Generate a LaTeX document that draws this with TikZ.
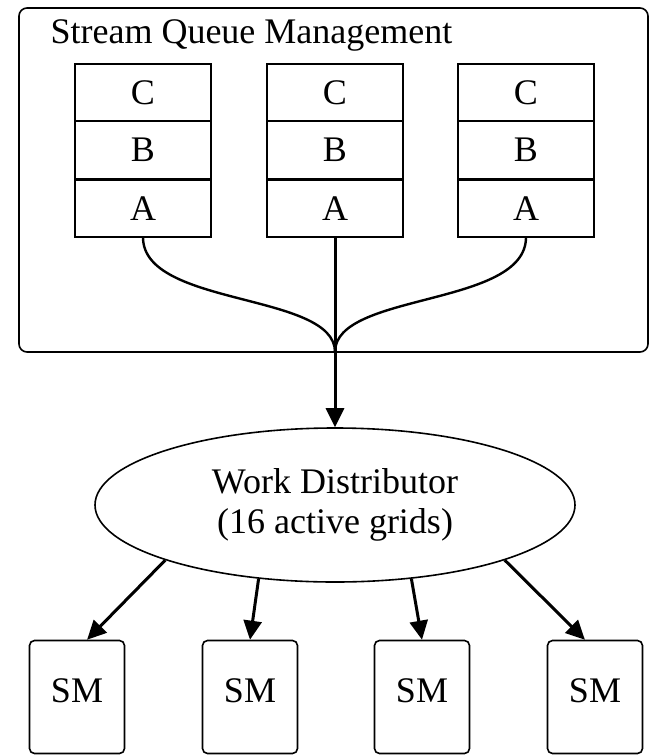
\documentclass[tikz,border=0pt]{standalone}
\usepackage{fontspec}
\setmainfont{Liberation Serif}
\usetikzlibrary{positioning,arrows.meta,shapes.geometric}

\begin{document}
\begin{tikzpicture}[
    x=1pt, y=-1pt,
    every node/.style={font=\fontsize{36}{40}\selectfont},
    cell/.style={rectangle, draw, line width=1.6pt, outer sep=0pt, minimum width=136pt, minimum height=57.5pt, inner sep=0pt},
    smbox/.style={rectangle, draw, line width=1.6pt, rounded corners=5pt, minimum width=95pt, minimum height=113pt, inner sep=0pt, text depth=12pt},
    flow/.style={-{Triangle[length=19pt,width=18pt]}, line width=3pt},
    feed/.style={line width=2.4pt}
]
\useasboundingbox (0,0) rectangle (651,755);

% Stream queue management
\node[draw, line width=1.6pt, rounded corners=8pt, minimum width=629pt, minimum height=344pt] (sqm) at (333.5,180) {};
\node[anchor=base west] (title) at (47,43) {Stream Queue Management};

% Queues
\foreach \i/\x in {1/143,2/335,3/526} {
    \node[cell] (c\i) at (\x,92.5) {C};
    \node[cell, below=0pt of c\i] (b\i) {B};
    \node[cell, below=1pt of b\i] (a\i) {A};
}

% Merge
\coordinate (join) at (335,352);
\draw[feed] (a1.south) .. controls +(0,70) and +(0,-60) .. (join);
\draw[feed] (a3.south) .. controls +(0,70) and +(0,-60) .. (join);

% Work distributor
\node[ellipse, draw, line width=1.6pt, minimum width=480pt, minimum height=154pt, inner sep=0pt, align=center] (wd) at (335,505) {Work Distributor\\(16 active grids)};
\draw[flow] (a2.south) -- (wd.north);

% SMs
\node[smbox] (sm1) at (77,697) {SM};
\node[smbox] (sm2) at (250,697) {SM};
\node[smbox] (sm3) at (422,697) {SM};
\node[smbox] (sm4) at (595,697) {SM};

\draw[flow] (wd.198) -- (sm1.80);
\draw[flow] (wd.224) -- (sm2.north);
\draw[flow] (wd.316) -- (sm3.north);
\draw[flow] (wd.342) -- (sm4.100);

\end{tikzpicture}
\end{document}
